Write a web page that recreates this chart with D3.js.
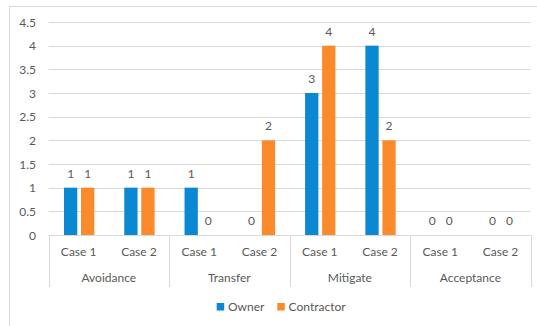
<!DOCTYPE html>
<html><head><meta charset="utf-8">
<script src="https://cdn.jsdelivr.net/npm/d3@7"></script>
<style>
html,body{margin:0;padding:0;background:#fff;}
svg{display:block;font-family:Lato,"Liberation Sans",sans-serif;}
</style></head>
<body><svg id="c" width="537" height="326"></svg>
<script>
const categories = ["Avoidance","Transfer","Mitigate","Acceptance"];
const cases = ["Case 1","Case 2"];
const series = ["Owner","Contractor"];
const colors = ["#0A88D2","#FB8A2C"];
// values per category, per case: [Owner, Contractor]
const ownerValues = [1,1, 1,0, 3,4, 0,0];
const contractorValues = [1,1, 0,2, 4,2, 0,0];
const yTicks = [0,0.5,1,1.5,2,2.5,3,3.5,4,4.5];

(function(){
const svg = d3.select("#c");
const W = 537, H = 326;
const pLeft = 48.5, pRight = 530.7, pTop = 22, pBottom = 235;
const txt = "#595959", grid = "#d9d9d9";

svg.append("rect").attr("x",9.5).attr("y",6.5).attr("width",W+10).attr("height",H+10)
  .attr("fill","#fff").attr("stroke",grid);

const y = d3.scaleLinear().domain([0,4.5]).range([pBottom,pTop]);
const xCat = d3.scaleBand().domain(categories).range([pLeft,pRight]);
const xCase = d3.scaleBand().domain(cases).range([0,xCat.bandwidth()]);
const bw = xCase.bandwidth();
const xSer = d3.scaleBand().domain(series).range([bw*0.257,bw*0.76]).paddingInner(0.22);

svg.append("g").selectAll("line").data(yTicks).join("line")
  .attr("x1",pLeft).attr("x2",pRight)
  .attr("y1",d=>Math.round(y(d))+0.5).attr("y2",d=>Math.round(y(d))+0.5)
  .attr("stroke",grid).attr("stroke-width",1);

svg.append("g").selectAll("text").data(yTicks).join("text")
  .attr("x",36).attr("y",d=>y(d)+4.5).attr("text-anchor","end")
  .attr("font-size",12).attr("fill",txt).text(d=>d);

const rows = [];
categories.forEach((c,ci)=>cases.forEach((k,ki)=>{
  const i = ci*2+ki;
  rows.push({c,k,s:"Owner",v:ownerValues[i],col:colors[0]});
  rows.push({c,k,s:"Contractor",v:contractorValues[i],col:colors[1]});
}));
const bx = d=>xCat(d.c)+xCase(d.k)+xSer(d.s);

svg.append("g").selectAll("rect").data(rows.filter(d=>d.v>0)).join("rect")
  .attr("x",bx).attr("width",xSer.bandwidth())
  .attr("y",d=>y(d.v)).attr("height",d=>y(0)-y(d.v)).attr("fill",d=>d.col);

svg.append("g").selectAll("text").data(rows).join("text")
  .attr("x",d=>bx(d)+xSer.bandwidth()/2).attr("y",d=>y(d.v)-10)
  .attr("text-anchor","middle").attr("font-size",12).attr("fill",txt).text(d=>d.v);

const seps = categories.map(c=>xCat(c)).concat([pRight]);
svg.append("g").selectAll("line").data(seps).join("line")
  .attr("x1",d=>Math.round(d)+0.5).attr("x2",d=>Math.round(d)+0.5)
  .attr("y1",pBottom).attr("y2",287).attr("stroke",grid);

const caseLabels = [];
categories.forEach(c=>cases.forEach(k=>caseLabels.push({c,k})));
svg.append("g").selectAll("text").data(caseLabels).join("text")
  .attr("x",d=>xCat(d.c)+xCase(d.k)+bw/2).attr("y",256)
  .attr("text-anchor","middle").attr("font-size",12).attr("fill",txt).text(d=>d.k);

svg.append("g").selectAll("text").data(categories).join("text")
  .attr("x",d=>xCat(d)+xCat.bandwidth()/2).attr("y",282)
  .attr("text-anchor","middle").attr("font-size",12).attr("fill",txt).text(d=>d);

const legX = [216.7, 277.3];
const lg = svg.append("g").selectAll("g").data(series).join("g");
lg.append("rect").attr("x",(d,i)=>legX[i]).attr("y",303).attr("width",7.5).attr("height",7.5)
  .attr("fill",(d,i)=>colors[i]);
lg.append("text").attr("x",(d,i)=>legX[i]+11.3).attr("y",311).attr("font-size",12)
  .attr("fill",txt).text(d=>d);
})();
</script></body></html>
